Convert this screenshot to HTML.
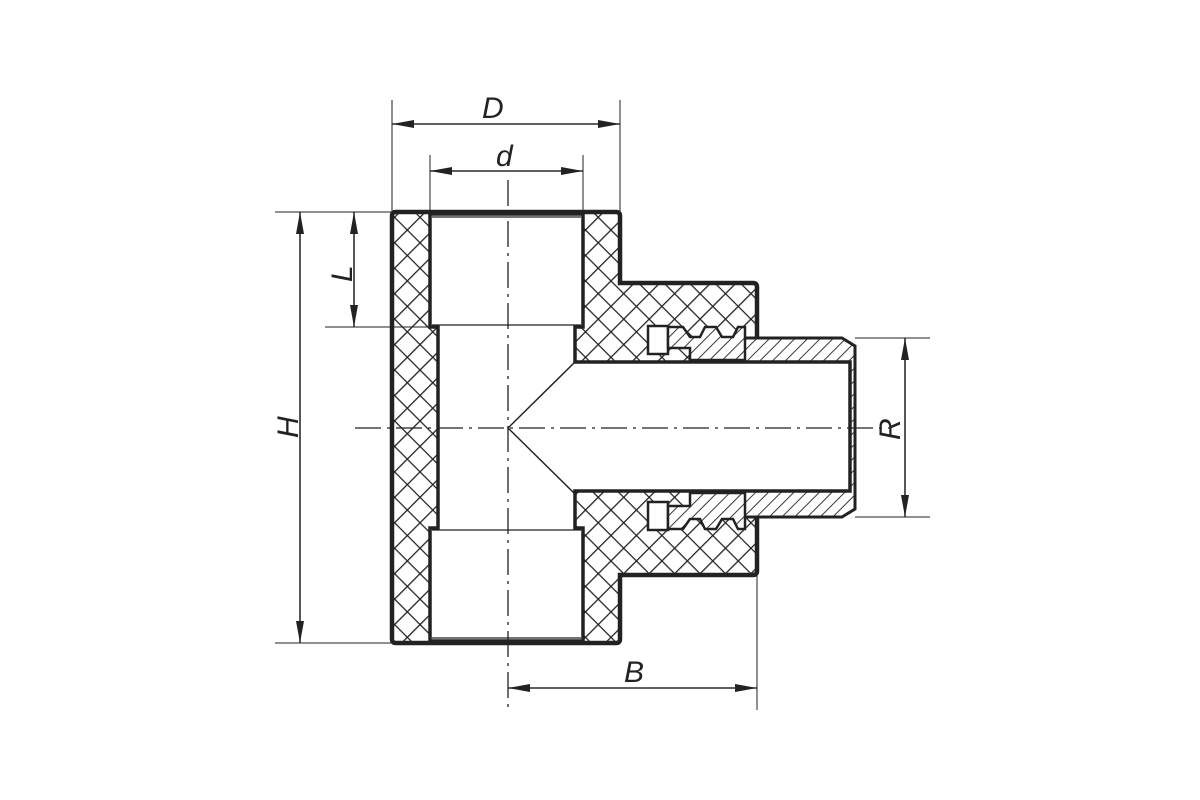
<!DOCTYPE html>
<html><head><meta charset="utf-8"><style>body{margin:0;background:#fff}svg{display:block}text{font-family:"Liberation Sans",sans-serif;font-style:italic;font-size:30px;fill:#222}</style></head><body>
<svg width="1200" height="800" viewBox="0 0 1200 800" xmlns="http://www.w3.org/2000/svg">
<defs>
<pattern id="x" width="18" height="18" patternUnits="userSpaceOnUse" patternTransform="rotate(45)">
<rect width="18" height="18" fill="#fff"/><path d="M0 0H18M0 0V18" stroke="#222" stroke-width="2.6"/></pattern>
<pattern id="h" width="9" height="9" patternUnits="userSpaceOnUse" patternTransform="rotate(45)">
<rect width="9" height="9" fill="#fff"/><path d="M0 0V9" stroke="#222" stroke-width="1.8"/></pattern>
<marker id="a" markerWidth="22" markerHeight="8" refX="22" refY="4" orient="auto" markerUnits="userSpaceOnUse"><path d="M0 0L22 4L0 8Z" fill="#222"/></marker>
</defs>
<!-- body -->
<path d="M392 216Q392 212 396 212H616Q620 212 620 216V283H753Q757 283 757 287V571Q757 575 753 575H620V639Q620 643 616 643H396Q392 643 392 639Z" fill="url(#x)" stroke="#222" stroke-width="4.5"/>
<!-- nipple -->
<path d="M742 338H842L855 346V509L842 517H742V491H850V362H742Z" fill="url(#h)" stroke="none"/>
<path d="M742 338H842L855 346V509L842 517H742" fill="none" stroke="#222" stroke-width="3"/>
<!-- bore -->
<path d="M430 214H583V327H575V362H850V491H575V528H583V641H430V528H438V327H430Z" fill="#fff" stroke="#222" stroke-width="3.5"/>
<path d="M575 362L508 428L575 494" fill="none" stroke="#222" stroke-width="1.5"/>
<path d="M432 325H581M432 530H581M432 217H581M432 638H581" stroke="#222" stroke-width="1.2"/>
<!-- thread grooves -->
<g stroke="#222" stroke-width="2.5">
<rect x="648" y="326" width="20" height="28" fill="#fff"/>
<path d="M668 327H683L690 337H700L705 327H716L722 337H733L738 327H745V360H690V348H668Z" fill="url(#h)"/>
<rect x="648" y="502" width="20" height="28" fill="#fff"/>
<path d="M668 529H683L690 519H700L705 529H716L722 519H733L738 529H745V493H690V506H668Z" fill="url(#h)"/>
</g>
<!-- center lines -->
<g stroke="#222" stroke-width="1.3" stroke-dasharray="26 6 3 6" fill="none">
<path d="M508 180V710"/><path d="M355 428H890"/></g>
<!-- extension lines -->
<g stroke="#222" stroke-width="1" fill="none">
<path d="M392 100V212M620 100V212M430 155V212M583 155V212"/>
<path d="M275 212H392M275 643H392M325 327H430"/>
<path d="M855 338H930M855 517H930"/>
<path d="M757 575V710"/>
</g>
<!-- dimension lines -->
<g stroke="#222" stroke-width="1.3" fill="none" marker-end="url(#a)">
<path d="M392 124H620"/><path d="M620 124H392"/>
<path d="M430 171H583"/><path d="M583 171H430"/>
<path d="M300 212V643"/><path d="M300 643V212"/>
<path d="M354 212V327"/><path d="M354 327V212"/>
<path d="M905 338V517"/><path d="M905 517V338"/>
<path d="M508 688H757"/><path d="M757 688H508"/>
</g>
<text x="482" y="118">D</text>
<text x="496" y="166">d</text>
<text x="624" y="682">B</text>
<text transform="translate(298,438) rotate(-90)">H</text>
<text transform="translate(352,282) rotate(-90)">L</text>
<text transform="translate(900,440) rotate(-90)">R</text>
</svg>
</body></html>
